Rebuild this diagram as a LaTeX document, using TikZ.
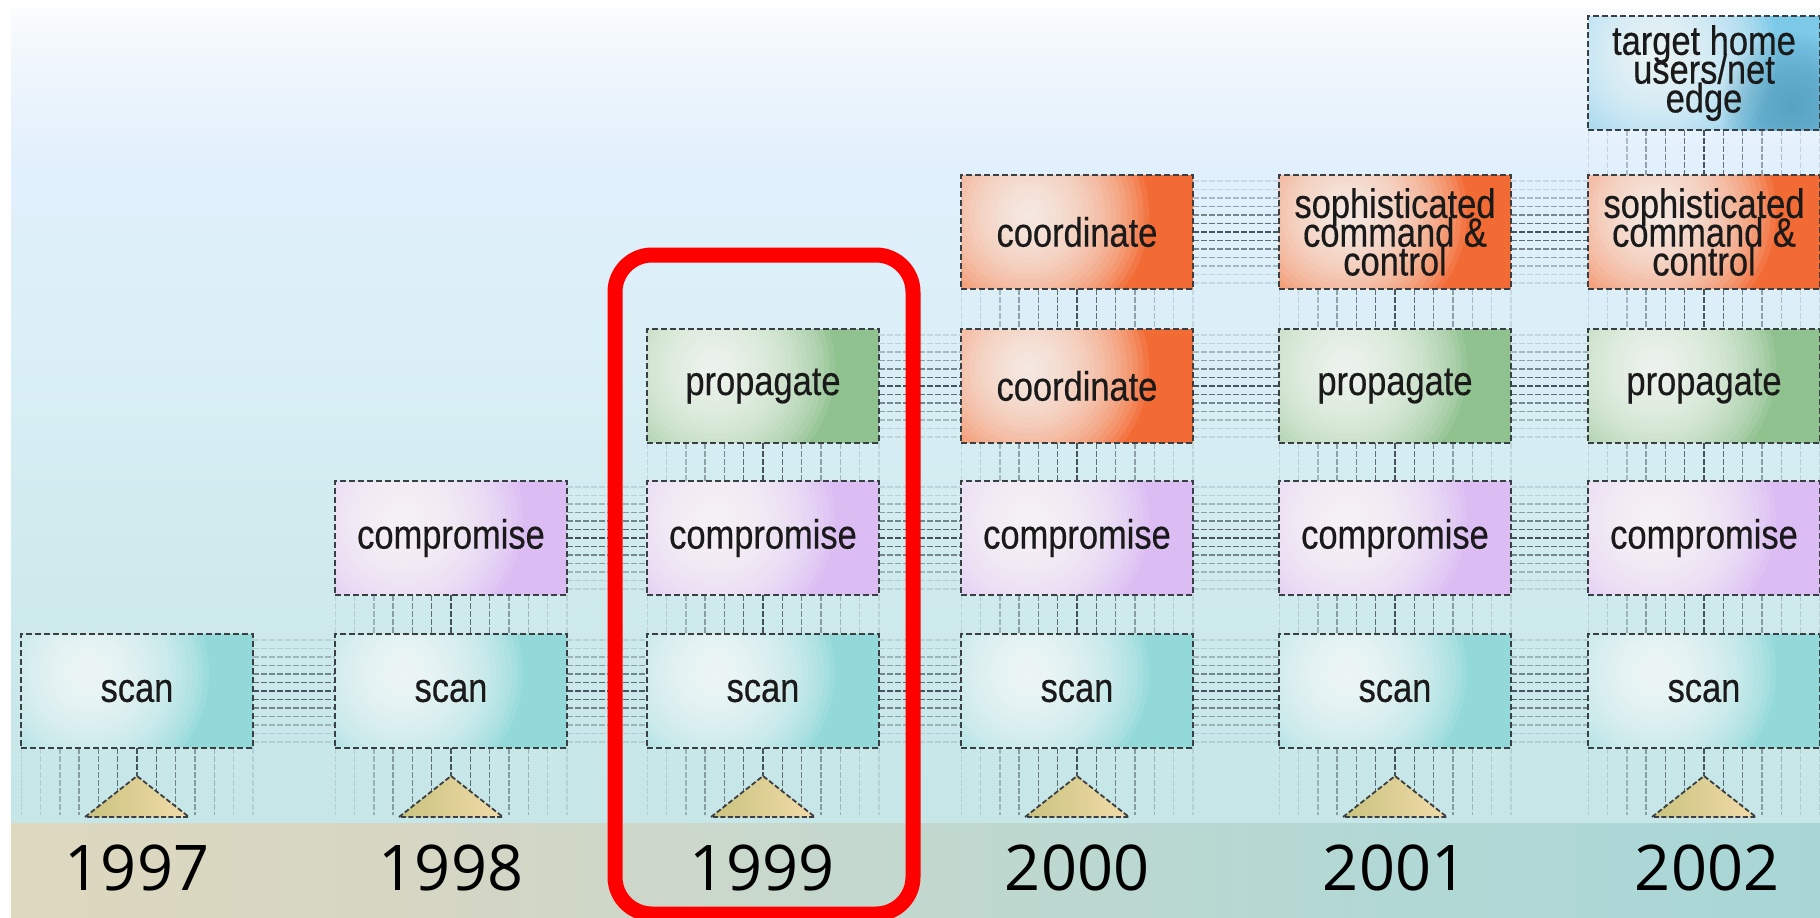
\documentclass[tikz,border=0pt]{standalone}
\usepackage{fontspec}
\usetikzlibrary{calc}
\newfontfamily\labelfont[FakeStretch=0.84,FakeBold=0.4]{Liberation Sans}
\newfontfamily\yearfont{Open Sans}

% palette
\definecolor{scanc}{HTML}{94D9DA}
\definecolor{compc}{HTML}{DBBCF3}
\definecolor{propc}{HTML}{90C290}
\definecolor{orgc}{HTML}{F26A34}
\definecolor{targc}{HTML}{7CC9E8}
\definecolor{targd}{HTML}{4F98B8}
\definecolor{boxline}{HTML}{3A3F44}
\definecolor{linkc}{HTML}{3A474E}
\definecolor{textc}{HTML}{1A1A1A}
\definecolor{tri1}{HTML}{C9C27E}
\definecolor{tri2}{HTML}{F2DCAA}
\definecolor{bgA0}{HTML}{FAFDFD}
\definecolor{bgA1}{HTML}{F0F6FC}
\definecolor{bgA2}{HTML}{E1F0FD}
\definecolor{bgB}{HTML}{DAEFF6}
\definecolor{bgC}{HTML}{D0EBEE}
\definecolor{bgD}{HTML}{C6E6E8}
\definecolor{bd0}{HTML}{DED8BE}
\definecolor{bd1}{HTML}{D5D6C4}
\definecolor{bd2}{HTML}{C8D8CC}
\definecolor{bd3}{HTML}{BCD8D0}
\definecolor{bd4}{HTML}{B2D8D5}
\definecolor{bd5}{HTML}{A8D6D6}

% sky backdrop (bottom to top) and the year band (left to right)
\pgfdeclareverticalshading{skyfade}{100bp}{color(0bp)=(bgD); color(26.4bp)=(bgD);
  color(41.7bp)=(bgC); color(54bp)=(bgB); color(65bp)=(bgA2); color(71.8bp)=(bgA1);
  color(75bp)=(bgA0); color(100bp)=(bgA0)}
\pgfdeclarehorizontalshading{bandfade}{100bp}{color(0bp)=(bd0); color(25bp)=(bd0);
  color(37bp)=(bd1); color(45.8bp)=(bd2); color(54.5bp)=(bd3); color(63bp)=(bd4);
  color(75bp)=(bd5); color(100bp)=(bd5)}

\newcommand\tightlines{\labelfont\fontsize{20.5pt}{14.4pt}\selectfont\lineskiplimit=-100pt\relax}

% soft round glow built from stacked translucent discs: colour, opacity, centre, radius
\newcommand\glow[4]{%
  \foreach \i in {1,...,22}{\fill[#1, fill opacity=#2] (#3) circle ({#4*\i/22});}}

\tikzset{
  box/.style={draw=boxline, line width=1pt, dash pattern=on 3pt off 1.5pt,
    minimum width=116pt, minimum height=57pt, inner sep=0pt, outer sep=0pt,
    text=textc, align=center, font={\tightlines}, fill=#1,
    path picture={
      \coordinate (hl) at ([xshift=-24pt,yshift=9pt]path picture bounding box.center);
      \glow{white}{0.09}{hl}{60pt}}},
  scanbox/.style={box=scanc},
  compbox/.style={box=compc},
  propbox/.style={box=propc},
  orgbox/.style={box=orgc},
  targbox/.style={box=targc,
    path picture={
      \coordinate (hl) at ([xshift=-24pt,yshift=9pt]path picture bounding box.center);
      \coordinate (dk) at ([xshift=44pt,yshift=-16pt]path picture bounding box.center);
      \glow{white}{0.09}{hl}{60pt}
      \glow{targd}{0.05}{dk}{36pt}}},
  link/.style={line width=0.7pt, draw=linkc, dash pattern=on 3pt off 1pt},
  tri/.style={draw=boxline, line width=0.9pt, dash pattern=on 2.5pt off 1.2pt,
    left color=tri1, right color=tri2},
  year/.style={font={\yearfont\fontsize{31.5pt}{36pt}\selectfont}, anchor=base,
    inner sep=0pt, text=black},
  frame/.style={draw=red, line width=7.5pt, rounded corners=18.5pt}
}

% bundles of dashed links between two stacked boxes / two neighbouring boxes
\newcommand\vlinks[2]{%
  \foreach \k in {-6,...,6}{%
    \pgfmathsetmacro\op{max(0.14,0.92-0.15*abs(\k))}%
    \draw[link, draw opacity=\op] ([xshift=\k*9.65pt]#1.south) -- ([xshift=\k*9.65pt]#2.north);}}
\newcommand\hlinks[2]{%
  \foreach \k in {-6,...,6}{%
    \pgfmathsetmacro\op{max(0.14,0.92-0.15*abs(\k))}%
    \draw[link, draw opacity=\op] ([yshift=\k*4.25pt]#1.east) -- ([yshift=\k*4.25pt]#2.west);}}

\begin{document}
\begin{tikzpicture}[x=0.5pt, y=-0.5pt]
\clip (0,0) rectangle (1820,917);
\fill[white] (0,0) rectangle (1820,917);
\shade[shading=skyfade] (11,8) rectangle (1820,823);
\shade[shading=bandfade] (11,823) rectangle (1820,917);

% 1997
\node[scanbox] (s97) at (137,691) {scan};
% 1998
\node[scanbox] (s98) at (451,691) {scan};
\node[compbox] (c98) at (451,538) {compromise};
% 1999
\node[scanbox] (s99) at (763,691) {scan};
\node[compbox] (c99) at (763,538) {compromise};
\node[propbox] (p99) at (763,386) {propagate};
% 2000
\node[scanbox] (s00) at (1077,691) {scan};
\node[compbox] (c00) at (1077,538) {compromise};
\node[orgbox]  (k00) at (1077,386) {coordinate};
\node[orgbox]  (h00) at (1077,232) {coordinate};
% 2001
\node[scanbox] (s01) at (1395,691) {scan};
\node[compbox] (c01) at (1395,538) {compromise};
\node[propbox] (p01) at (1395,386) {propagate};
\node[orgbox]  (h01) at (1395,232) {sophisticated\\command \&\\control};
% 2002
\node[scanbox] (s02) at (1704,691) {scan};
\node[compbox] (c02) at (1704,538) {compromise};
\node[propbox] (p02) at (1704,386) {propagate};
\node[orgbox]  (h02) at (1704,232) {sophisticated\\command \&\\control};
\node[targbox] (t02) at (1704,73) {target home\\users/net\\edge};

% foot points of the link bundles under each scan box
\coordinate (b97) at (137,815);
\coordinate (b98) at (451,815);
\coordinate (b99) at (763,815);
\coordinate (b00) at (1077,815);
\coordinate (b01) at (1395,815);
\coordinate (b02) at (1704,815);

% vertical bundles
\vlinks{s97}{b97}
\vlinks{s98}{b98}
\vlinks{s99}{b99}
\vlinks{s00}{b00}
\vlinks{s01}{b01}
\vlinks{s02}{b02}
\vlinks{c98}{s98}
\vlinks{c99}{s99}
\vlinks{p99}{c99}
\vlinks{c00}{s00}
\vlinks{k00}{c00}
\vlinks{h00}{k00}
\vlinks{c01}{s01}
\vlinks{p01}{c01}
\vlinks{h01}{p01}
\vlinks{c02}{s02}
\vlinks{p02}{c02}
\vlinks{h02}{p02}
\vlinks{t02}{h02}

% horizontal bundles
\hlinks{s97}{s98}
\hlinks{s98}{s99}
\hlinks{s99}{s00}
\hlinks{s00}{s01}
\hlinks{s01}{s02}
\hlinks{c98}{c99}
\hlinks{c99}{c00}
\hlinks{c00}{c01}
\hlinks{c01}{c02}
\hlinks{p99}{k00}
\hlinks{k00}{p01}
\hlinks{p01}{p02}
\hlinks{h00}{h01}
\hlinks{h01}{h02}

% year markers
\foreach \c in {137,451,763,1077,1395,1704}
  \draw[tri] (\c-52,817) -- (\c,776) -- (\c+52,817) -- cycle;

% years
\node[year] (y97) at (137,890) {1997};
\node[year] (y98) at (451,890) {1998};
\node[year] (y99) at (762,890) {1999};
\node[year] (y00) at (1077,890) {2000};
\node[year] (y01) at (1395,890) {2001};
\node[year] (y02) at (1707,890) {2002};

% highlighted year
\draw[frame] (615,255) rectangle (913,914);
\end{tikzpicture}
\end{document}
